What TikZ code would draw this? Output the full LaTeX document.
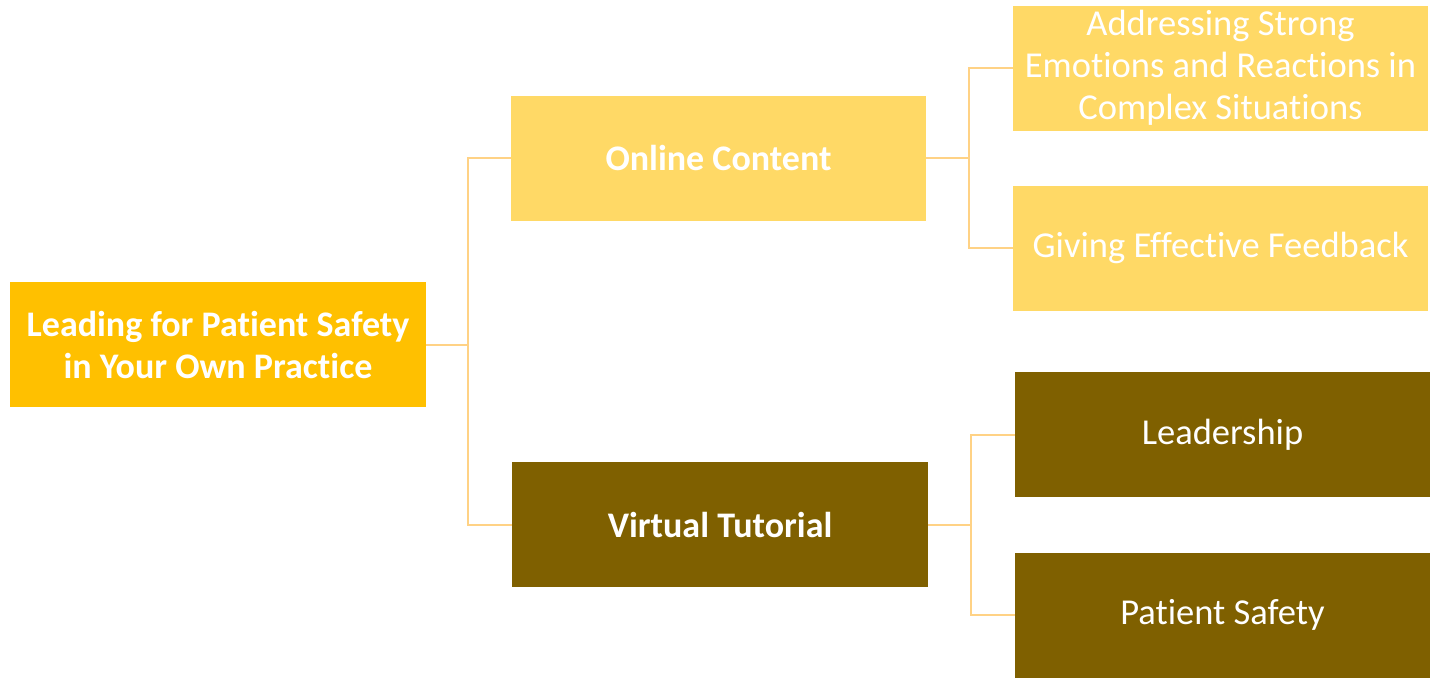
\documentclass[tikz,border=0pt]{standalone}
\usepackage{fontspec}
\setmainfont{Carlito}[Ligatures=NoCommon]
\definecolor{rootc}{HTML}{FFC000}
\definecolor{lightc}{HTML}{FFD966}
\definecolor{darkc}{HTML}{7F6000}
\definecolor{linec}{HTML}{FFD285}
\tikzset{
  box/.style={rectangle, draw=none, minimum width=415pt, minimum height=125pt, inner sep=0pt, text=white, align=center, font=\fontsize{36.5}{42}\selectfont},
  topbox/.style={box, font=\fontsize{36}{42}\selectfont\bfseries},
  conn/.style={draw=linec, line width=2pt}
}
\begin{document}
\begin{tikzpicture}[x=1pt,y=-1pt]
\useasboundingbox (0,0) rectangle (1434,678);
\node[topbox, fill=rootc, minimum width=416pt] (root) at (218,344.5) {Leading for Patient Safety\\in Your Own Practice};
\node[topbox, fill=lightc] (oc) at (718.5,158) {Online Content};
\node[topbox, fill=darkc, minimum width=416pt] (vt) at (720,524.5) {Virtual Tutorial};
\node[box, fill=lightc] (a1) at (1220.5,68) {Addressing Strong\\Emotions and Reactions in\\Complex Situations};
\node[box, fill=lightc] (a2) at (1220.5,248) {Giving Effective Feedback};
\node[box, fill=darkc] (b1) at (1222.5,434.5) {Leadership};
\node[box, fill=darkc] (b2) at (1222.5,615) {Patient Safety};
\draw[conn] (root.east) -- ++(42,0) |- (oc.west);
\draw[conn] (root.east) -- ++(42,0) |- (vt.west);
\draw[conn] (oc.east) -- ++(43,0) |- (a1.west);
\draw[conn] (oc.east) -- ++(43,0) |- (a2.west);
\draw[conn] (vt.east) -- ++(43,0) |- (b1.west);
\draw[conn] (vt.east) -- ++(43,0) |- (b2.west);
\end{tikzpicture}
\end{document}
